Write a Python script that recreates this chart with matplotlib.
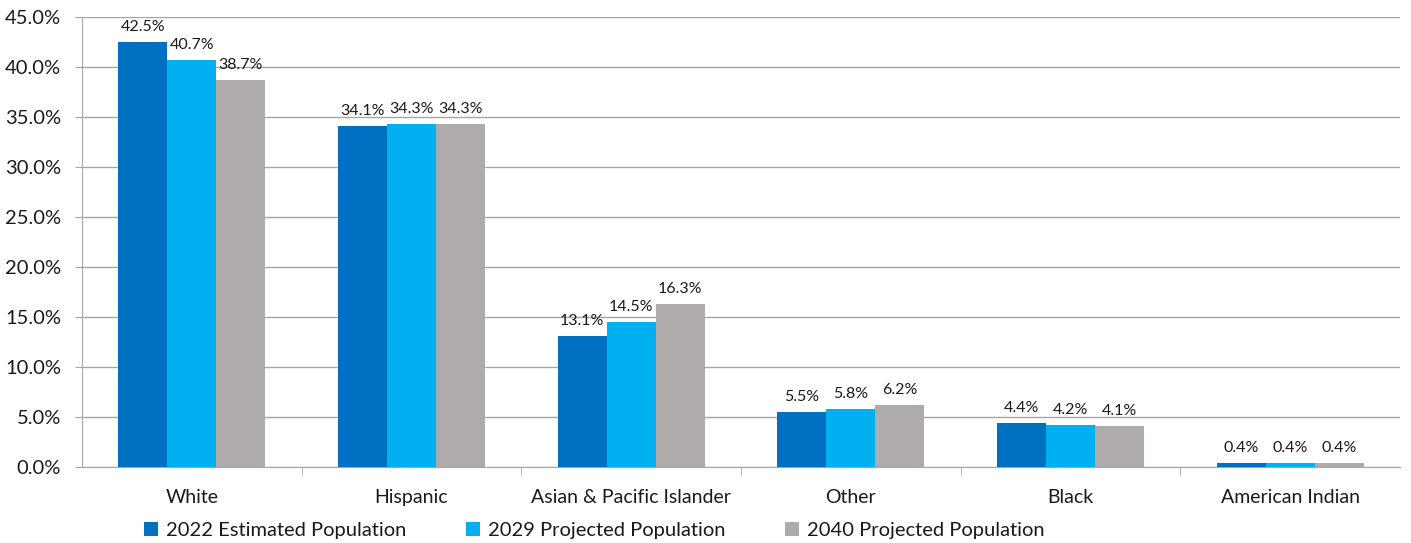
import numpy as np
import matplotlib
matplotlib.use("Agg")
import matplotlib.pyplot as plt
from matplotlib.ticker import FuncFormatter, FixedLocator

plt.rcParams['font.family'] = ['Lato', 'DejaVu Sans']

categories = ["White", "Hispanic", "Asian & Pacific Islander", "Other", "Black", "American Indian"]
series_names = ["2022 Estimated Population", "2029 Projected Population", "2040 Projected Population"]
pop_2022 = [42.5, 34.1, 13.1, 5.5, 4.4, 0.4]
pop_2029 = [40.7, 34.3, 14.5, 5.8, 4.2, 0.4]
pop_2040 = [38.7, 34.3, 16.3, 6.2, 4.1, 0.4]
colors = ["#0070C0", "#00B0F0", "#AFABAB"]

fig = plt.figure(figsize=(14.11, 5.43), dpi=100)
ax = fig.add_axes([0.0581, 0.14, 0.934, 0.8287])

x = np.arange(len(categories))
w = 0.223
for i, (vals, name) in enumerate(zip([pop_2022, pop_2029, pop_2040], series_names)):
    pos = x + (i - 1) * w
    ax.bar(pos, vals, width=w, color=colors[i], label=name, zorder=3)
    for p, v in zip(pos, vals):
        ax.text(p, v + 0.8, f"{v:.1f}%", ha='center', va='bottom', fontsize=11.5, color='#1a1a1a')

ax.set_xlim(-0.5, len(categories) - 0.5)
ax.set_ylim(0, 45)
ax.set_yticks(np.arange(0, 45.1, 5))
ax.yaxis.set_major_formatter(FuncFormatter(lambda v, _: f"{v:.1f}%"))
ax.yaxis.grid(True, color='#A6A6A6', linewidth=1, zorder=0)
ax.tick_params(axis='y', labelsize=14.5, length=5, color='#A6A6A6', pad=10, labelcolor='#1a1a1a')

ax.set_xticks(x)
ax.set_xticklabels(categories, fontsize=14, color='#1a1a1a')
ax.tick_params(axis='x', length=0, pad=16)
ax.xaxis.set_minor_locator(FixedLocator(np.arange(0.5, len(categories) - 0.5, 1)))
ax.tick_params(axis='x', which='minor', length=6, color='#A6A6A6')

for s in ['top', 'right']:
    ax.spines[s].set_visible(False)
ax.spines['left'].set_color('#A6A6A6')
ax.spines['bottom'].set_color('#A6A6A6')

leg = ax.legend(loc='center left', bbox_to_anchor=(0.047, -0.142), ncol=3, frameon=False,
                fontsize=14.5, handlelength=0.7, handleheight=0.7, handletextpad=0.4,
                columnspacing=2.95, borderaxespad=0, borderpad=0)
for t in leg.get_texts():
    t.set_color('#1a1a1a')

fig.savefig("out.png", dpi=100)
